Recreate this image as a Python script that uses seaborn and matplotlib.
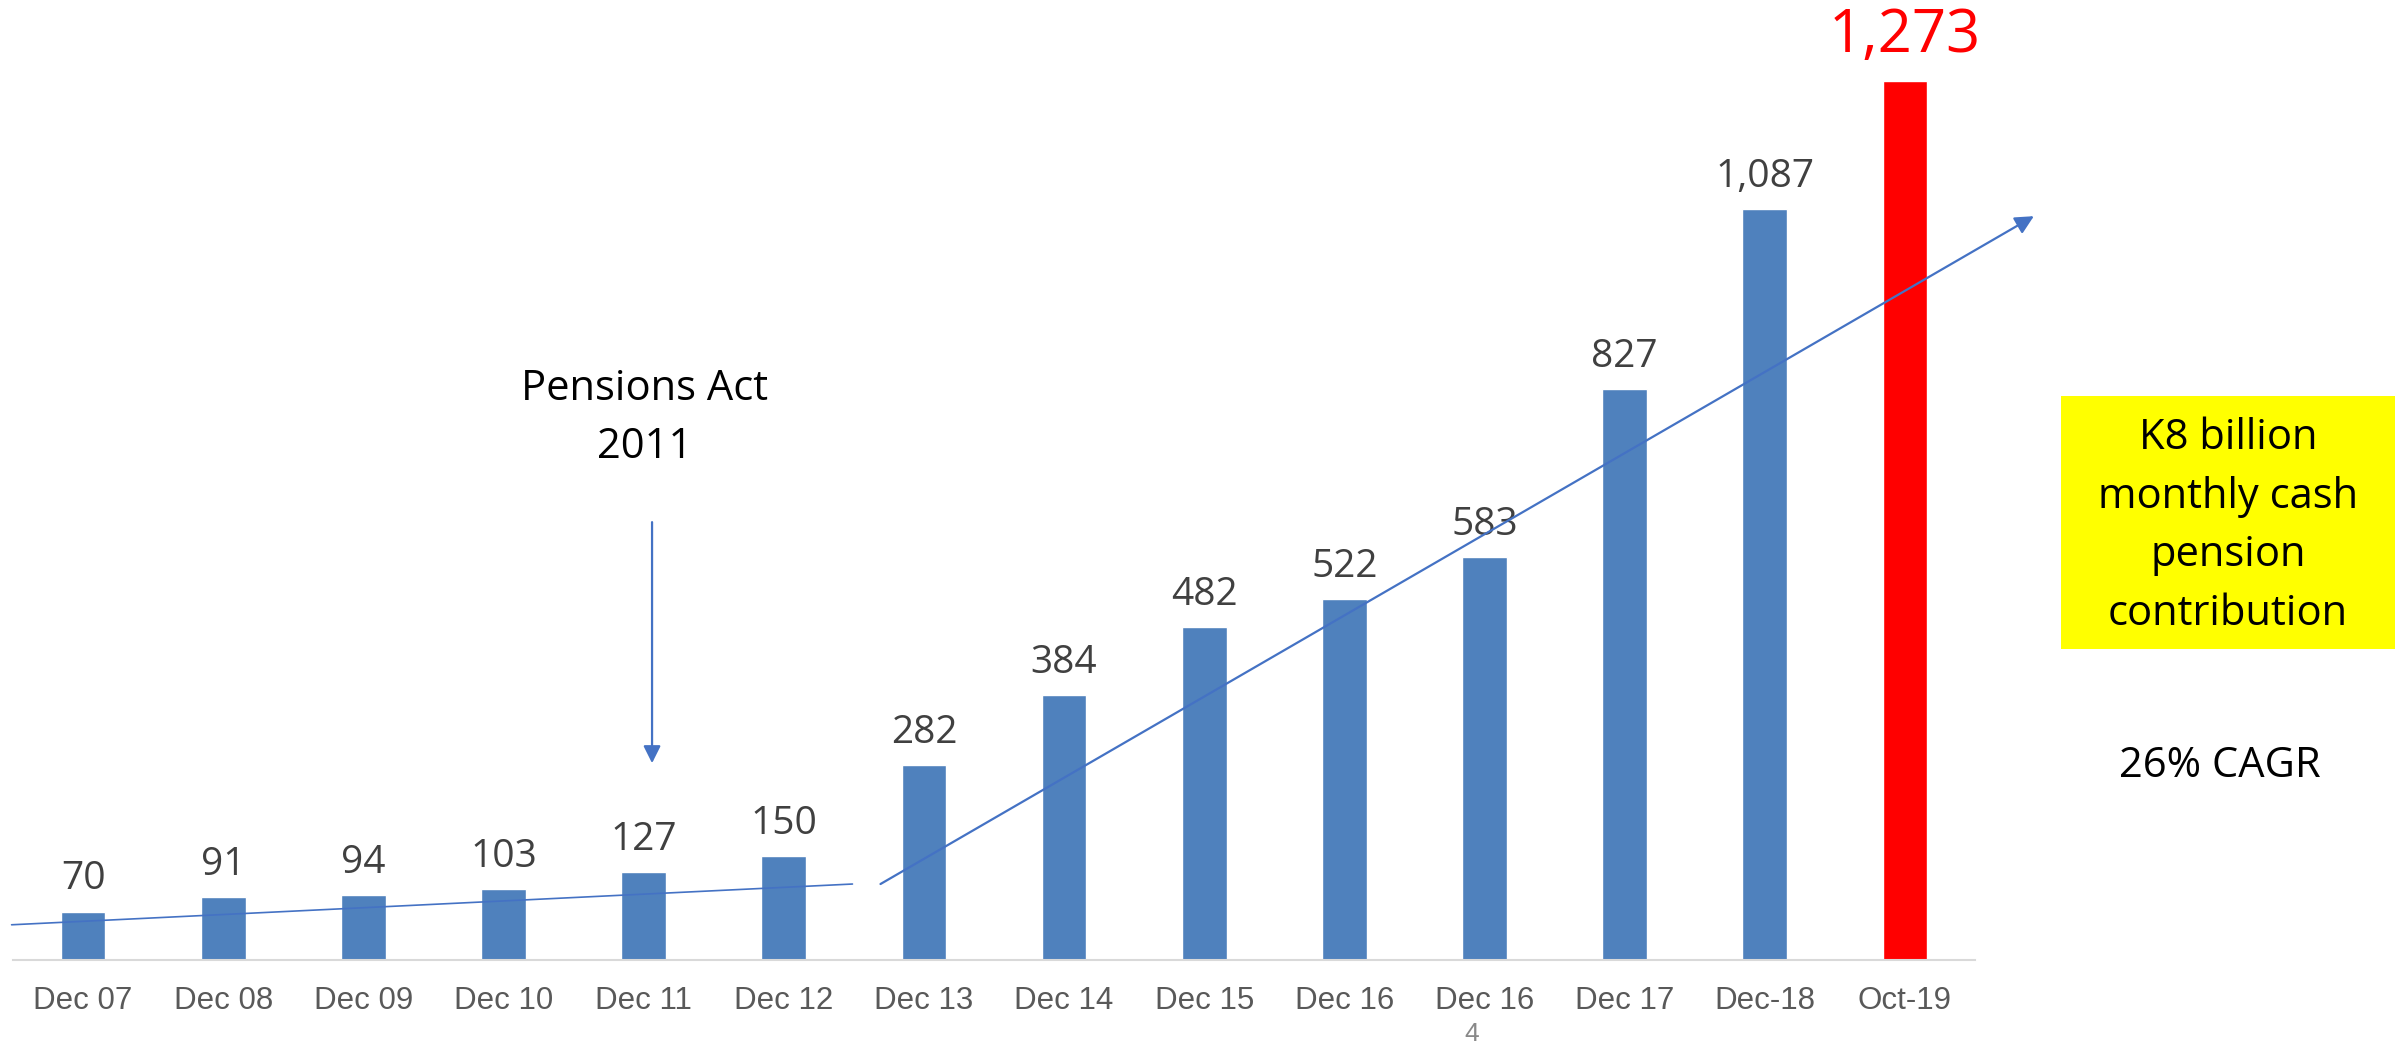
import numpy as np
import matplotlib
matplotlib.use("Agg")
import matplotlib.pyplot as plt
import seaborn as sns
from matplotlib.patches import Rectangle

# data
periods = ["Dec 07", "Dec 08", "Dec 09", "Dec 10", "Dec 11", "Dec 12", "Dec 13",
           "Dec 14", "Dec 15", "Dec 16", "Dec 16", "Dec 17", "Dec-18", "Oct-19"]
contributions = [70, 91, 94, 103, 127, 150, 282, 384, 482, 522, 583, 827, 1087, 1273]
bar_colors = ["#4F81BD"] * 13 + ["#FF0000"]

# hand-drawn trend lines (x in category units, y in data units)
trend_before = ([-0.51, 5.49], [51, 110])
trend_after = ([5.69, 13.92], [110, 1077])
act_arrow = (4.06, 634, 285)

sns.set_theme(style="white")
plt.rcParams["font.family"] = ["Liberation Sans", "DejaVu Sans"]
calibri_like = ["Open Sans", "DejaVu Sans"]

fig = plt.figure(figsize=(24.02, 10.47), dpi=100)
ax = fig.add_axes([13 / 2402, 87 / 1047, 1962 / 2402, 960 / 1047])

df_x = np.arange(len(periods))
sns.barplot(x=df_x, y=contributions, hue=df_x, palette=bar_colors, legend=False,
            width=0.32, saturation=1, ax=ax)

ax.set_xlim(-0.5, len(periods) - 0.5)
ax.set_ylim(0, 1390)
ax.set_xticks(df_x)
ax.set_xticklabels(periods, fontsize=22.5, color="#595959")
ax.tick_params(axis="x", length=0, pad=19)
ax.set_yticks([])
ax.set_xlabel("")
ax.set_ylabel("")
for side in ["left", "right", "top"]:
    ax.spines[side].set_visible(False)
ax.spines["bottom"].set_color("#D9D9D9")
ax.spines["bottom"].set_linewidth(1.5)

# value labels
for i, v in enumerate(contributions[:-1]):
    ax.annotate(f"{v:,}", (i, v), xytext=(0, 16), textcoords="offset points",
                ha="center", va="baseline", fontsize=28, color="#404040",
                family=calibri_like)
ax.annotate(f"{contributions[-1]:,}", (len(periods) - 1, contributions[-1]),
            xytext=(0, 20.5), textcoords="offset points", ha="center", va="baseline",
            fontsize=43, color="#FF0000", family=calibri_like,
            annotation_clip=False)

# trend lines
ax.plot(trend_before[0], trend_before[1], color="#4472C4", lw=1.2, clip_on=False)
ax.annotate("", xy=(trend_after[0][1], trend_after[1][1]),
            xytext=(trend_after[0][0], trend_after[1][0]),
            arrowprops=dict(arrowstyle="-|>", color="#4472C4", lw=1.6,
                            mutation_scale=28, shrinkA=0, shrinkB=0),
            annotation_clip=False)

# Pensions Act annotation
ax.annotate("", xy=(act_arrow[0], act_arrow[2]), xytext=(act_arrow[0], act_arrow[1]),
            arrowprops=dict(arrowstyle="-|>", color="#4472C4", lw=1.6,
                            mutation_scale=26, shrinkA=0, shrinkB=0))
ax.text(act_arrow[0] - 0.05, 785, "Pensions Act\n2011", ha="center", va="center",
        fontsize=30, color="black", family=calibri_like, linespacing=1.5)

# right-hand notes
fig.add_artist(Rectangle((2061 / 2402, (1047 - 649) / 1047), 334 / 2402, 253 / 1047,
                         transform=fig.transFigure, facecolor="#FFFF00",
                         edgecolor="none"))
fig.text(2228 / 2402, (1047 - 526) / 1047,
         "K8 billion\nmonthly cash\npension\ncontribution",
         ha="center", va="center", fontsize=30, color="black",
         family=calibri_like, linespacing=1.52)
fig.text(2220 / 2402, (1047 - 766) / 1047, "26% CAGR", ha="center", va="center",
         fontsize=30, color="black", family=calibri_like)

# page number
fig.text(1472 / 2402, (1047 - 1034) / 1047, "4", ha="center", va="center",
         fontsize=19, color="#898989")

fig.savefig("out.png", dpi=100)
